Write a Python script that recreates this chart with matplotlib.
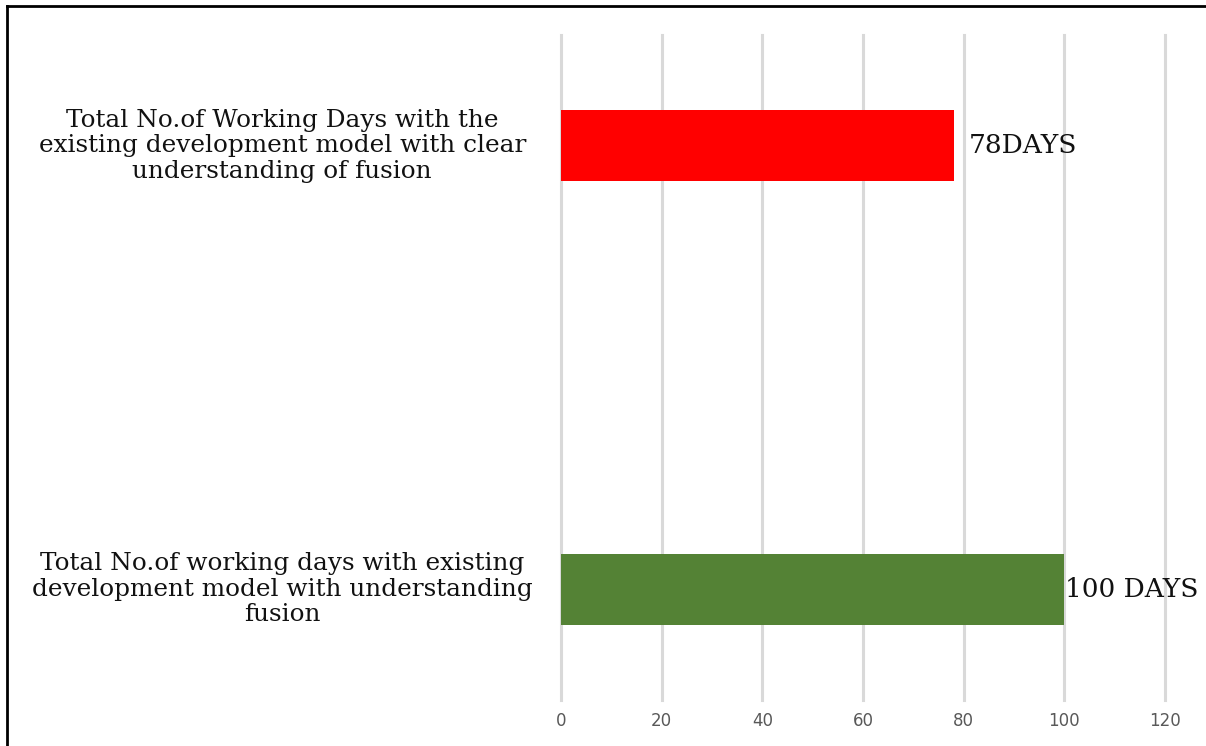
import matplotlib

matplotlib.use("Agg")
import matplotlib.pyplot as plt
from matplotlib.lines import Line2D
from matplotlib.transforms import blended_transform_factory

categories = [
    "Total No.of working days with existing\ndevelopment model with understanding\nfusion",
    "Total No.of Working Days with the\nexisting development model with clear\nunderstanding of fusion",
]
values = [100, 78]
value_labels = ["100 DAYS", "78DAYS"]
bar_colors = ["#548235", "#FF0000"]
x_ticks = [0, 20, 40, 60, 80, 100, 120]

fig = plt.figure(figsize=(12.06, 7.46), dpi=100)
ax = fig.add_axes([0.4652, 0.0617, 0.5008, 0.8913])

positions = list(range(len(categories)))
ax.barh(positions, values, height=0.16, color=bar_colors, zorder=3)

ax.set_xlim(0, 120)
ax.set_ylim(-0.25, 1.25)
ax.set_xticks(x_ticks)
ax.set_xticklabels([str(t) for t in x_ticks], fontsize=12, color="#595959", family="DejaVu Sans")
ax.tick_params(axis="x", length=0, pad=9)
ax.set_yticks([])
ax.grid(axis="x", color="#D9D9D9", linewidth=2.2, zorder=0)
for gl in ax.get_xgridlines():
    gl.set_clip_on(False)
for spine in ax.spines.values():
    spine.set_visible(False)

label_tf = blended_transform_factory(fig.transFigure, ax.transData)
for pos, text in zip(positions, categories):
    ax.text(0.234, pos, text, transform=label_tf, ha="center", va="center",
            multialignment="center", fontsize=17.8, family="DejaVu Serif",
            linespacing=1.12, color="#111111")

for pos, val, lab in zip(positions, values, value_labels):
    ax.text(val + 0.2 if val >= 100 else val + 3, pos, lab, ha="left", va="center",
            fontsize=19, family="DejaVu Serif", color="#111111", zorder=4)

# frame lines on the left and top edges of the picture
fig.add_artist(Line2D([0.0055, 0.0055], [0.0, 0.992], transform=fig.transFigure,
                      color="black", linewidth=2))
fig.add_artist(Line2D([0.0055, 1.0], [0.992, 0.992], transform=fig.transFigure,
                      color="black", linewidth=2))

fig.savefig("out.png", dpi=100)
